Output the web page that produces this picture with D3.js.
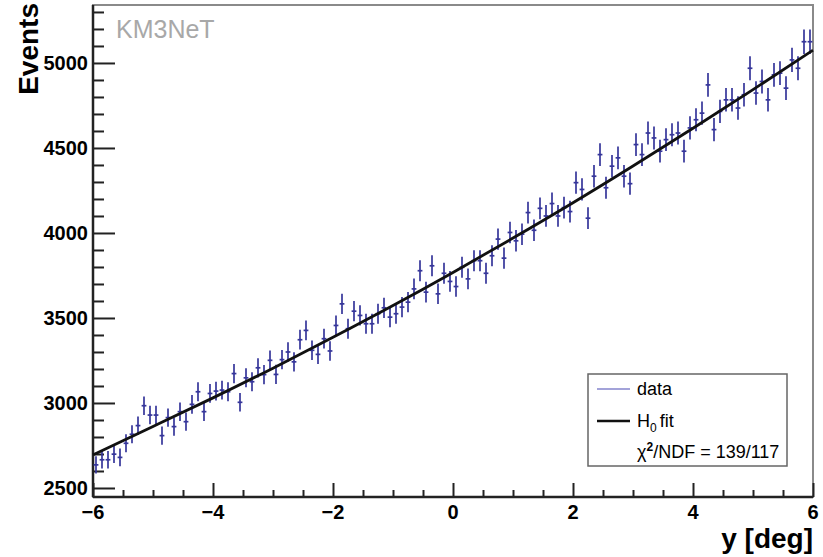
<!DOCTYPE html>
<html>
<head>
<meta charset="utf-8">
<script src="https://cdn.jsdelivr.net/npm/d3@7"></script>
<style>
    body { margin: 0; background: #fff; }
    text { font-family: "Liberation Sans", Arial, Helvetica, sans-serif; }
</style>
</head>
<body>
<div id="chart"></div>
<script>
// Bin centres go from -5.95 to 5.95 in steps of 0.1 deg
var binStart = -5.95;
var binWidth = 0.1;

// Event counts per bin (120 bins)
var events = [
    2636, 2666, 2666, 2699, 2680, 2763, 2816, 2867, 2984, 2929,
    2929, 2808, 2914, 2861, 2949, 2890, 2992, 3066, 2949, 3056,
    3070, 3076, 3066, 3173, 3004, 3148, 3125, 3207, 3167, 3251,
    3168, 3255, 3300, 3242, 3372, 3427, 3310, 3286, 3378, 3306,
    3456, 3583, 3437, 3540, 3515, 3466, 3466, 3525, 3560, 3505,
    3525, 3564, 3593, 3671, 3778, 3652, 3807, 3642, 3763, 3715,
    3685, 3798, 3730, 3837, 3837, 3763, 3866, 3964, 3852, 4003,
    3954, 3993, 4120, 4016, 4145, 4100, 4173, 4100, 4149, 4126,
    4296, 4256, 4087, 4334, 4461, 4266, 4393, 4442, 4334, 4290,
    4520, 4461, 4588, 4559, 4481, 4549, 4578, 4588, 4481, 4618,
    4666, 4705, 4871, 4608, 4715, 4783, 4783, 4735, 4813, 4969,
    4823, 4891, 4783, 4930, 4940, 4852, 5018, 4969, 5125, 5125
];

// H0 fit curve sampled every degree
var fitX = [-6, -5, -4, -3, -2, -1, 0, 1, 2, 3, 4, 5, 6];
var fitY = [2695, 2862, 3030, 3205, 3386, 3573, 3768, 3970, 4178, 4394, 4616, 4843, 5075];

// Axis ticks
var xTicks = [-6, -4, -2, 0, 2, 4, 6];
var yTicks = [2500, 3000, 3500, 4000, 4500, 5000];

var legendLabels = ["data", "fit", "χ²/NDF = 139/117"];

var width = 823, height = 557;
// plot frame in pixels ("top" is reserved on window, so prefix these)
var plotLeft = 93, plotRight = 813, plotTop = 5, plotBottom = 497;
var dataColor = "#36369a";

var svg = d3.select("#chart").append("svg")
    .attr("width", width)
    .attr("height", height);

svg.append("rect").attr("width", width).attr("height", height).attr("fill", "#fff");

var x = d3.scaleLinear().domain([-6, 6]).range([plotLeft, plotRight]);
var y = d3.scaleLinear().domain([2447, 5341]).range([plotBottom, plotTop]);

// frame (top + right are grey, axes are black)
svg.append("rect")
    .attr("x", plotLeft).attr("y", plotTop)
    .attr("width", plotRight - plotLeft).attr("height", plotBottom - plotTop)
    .attr("fill", "none")
    .attr("stroke", "#8a8a8a")
    .attr("stroke-width", 2);

// Y axis with minor ticks every 100
var yMinor = d3.range(2500, 5341, 100).filter(function (v) { return v % 500 != 0; });
var yAxis = svg.append("g").attr("transform", "translate(" + plotLeft + ",0)");
yAxis.call(d3.axisRight(y).tickValues(yMinor).tickSize(11).tickFormat(""));
yAxis.append("g").call(d3.axisRight(y).tickValues(yTicks).tickSize(22).tickFormat(""));
yAxis.selectAll(".domain").remove();
yAxis.selectAll("line").attr("stroke", "#222").attr("stroke-width", 2);

yTicks.forEach(function (t) {
    svg.append("text")
        .attr("x", plotLeft - 5)
        .attr("y", y(t) + 7)
        .attr("text-anchor", "end")
        .style("font-size", "20px")
        .style("font-weight", "bold")
        .text(t);
});

// X axis with minor ticks every 0.5
var xMinor = d3.range(-6, 6.01, 0.5).filter(function (v) { return v % 2 != 0; });
var xAxis = svg.append("g").attr("transform", "translate(0," + plotBottom + ")");
xAxis.call(d3.axisTop(x).tickValues(xMinor).tickSize(7).tickFormat(""));
xAxis.append("g").call(d3.axisTop(x).tickValues(xTicks).tickSize(14).tickFormat(""));
xAxis.selectAll(".domain").remove();
xAxis.selectAll("line").attr("stroke", "#222").attr("stroke-width", 2);

xTicks.forEach(function (t) {
    svg.append("text")
        .attr("x", x(t))
        .attr("y", plotBottom + 22)
        .attr("text-anchor", "middle")
        .style("font-size", "20px")
        .style("font-weight", "bold")
        .text(t < 0 ? "\u2212" + Math.abs(t) : t);
});

// black axis lines on left and bottom
svg.append("line").attr("x1", plotLeft).attr("x2", plotLeft).attr("y1", plotTop).attr("y2", plotBottom)
    .attr("stroke", "#222").attr("stroke-width", 2.5);
svg.append("line").attr("x1", plotLeft).attr("x2", plotRight).attr("y1", plotBottom).attr("y2", plotBottom)
    .attr("stroke", "#222").attr("stroke-width", 2.5);

// Axis titles
svg.append("text")
    .attr("transform", "translate(38,3) rotate(-90)")
    .attr("text-anchor", "end")
    .style("font-size", "28px")
    .style("font-weight", "bold")
    .text("Events");

svg.append("text")
    .attr("x", plotRight)
    .attr("y", 548)
    .attr("text-anchor", "end")
    .style("font-size", "28px")
    .style("font-weight", "bold")
    .text("y [deg]");

svg.append("text")
    .attr("x", 116)
    .attr("y", 38)
    .attr("fill", "#a8a8a8")
    .style("font-size", "25px")
    .text("KM3NeT");

// Data points with Poisson error bars
var pts = svg.append("g");
events.forEach(function (v, i) {
    var cx = binStart + i * binWidth;
    var err = Math.sqrt(v);
    pts.append("line")
        .attr("x1", x(cx)).attr("x2", x(cx))
        .attr("y1", y(v - err)).attr("y2", y(v + err))
        .attr("stroke", dataColor).attr("stroke-width", 1.7);
    pts.append("line")
        .attr("x1", x(cx - binWidth * 0.4)).attr("x2", x(cx + binWidth * 0.4))
        .attr("y1", y(v)).attr("y2", y(v))
        .attr("stroke", dataColor).attr("stroke-width", 1.7);
});

// Fit curve
var fitLine = d3.line()
    .x(function (d, i) { return x(fitX[i]); })
    .y(function (d) { return y(d); })
    .curve(d3.curveNatural);

svg.append("path")
    .datum(fitY)
    .attr("d", fitLine)
    .attr("fill", "none")
    .attr("stroke", "#111")
    .attr("stroke-width", 2.8);

// Legend
var lg = svg.append("g");
lg.append("rect")
    .attr("x", 588).attr("y", 374)
    .attr("width", 199).attr("height", 92)
    .attr("fill", "#fff")
    .attr("stroke", "#666")
    .attr("stroke-width", 1.5);

lg.append("line").attr("x1", 597).attr("x2", 630).attr("y1", 389).attr("y2", 389)
    .attr("stroke", "#8585cc").attr("stroke-width", 1.5);
lg.append("text").attr("x", 637).attr("y", 395).style("font-size", "18px").text(legendLabels[0]);

lg.append("line").attr("x1", 597).attr("x2", 630).attr("y1", 421).attr("y2", 421)
    .attr("stroke", "#111").attr("stroke-width", 2.5);
var h0 = lg.append("text").attr("x", 637).attr("y", 427).style("font-size", "18px");
h0.append("tspan").text("H");
h0.append("tspan").attr("dy", 5).style("font-size", "12px").text("0");
h0.append("tspan").attr("dy", -5).attr("dx", 3).text(legendLabels[1]);

var chi = lg.append("text").attr("x", 637).attr("y", 458).style("font-size", "18px");
chi.append("tspan").text("χ");
chi.append("tspan").attr("dy", -7).style("font-size", "12px").style("font-weight", "bold").text("2");
chi.append("tspan").attr("dy", 7).text("/NDF = 139/117");
</script>
</body>
</html>
